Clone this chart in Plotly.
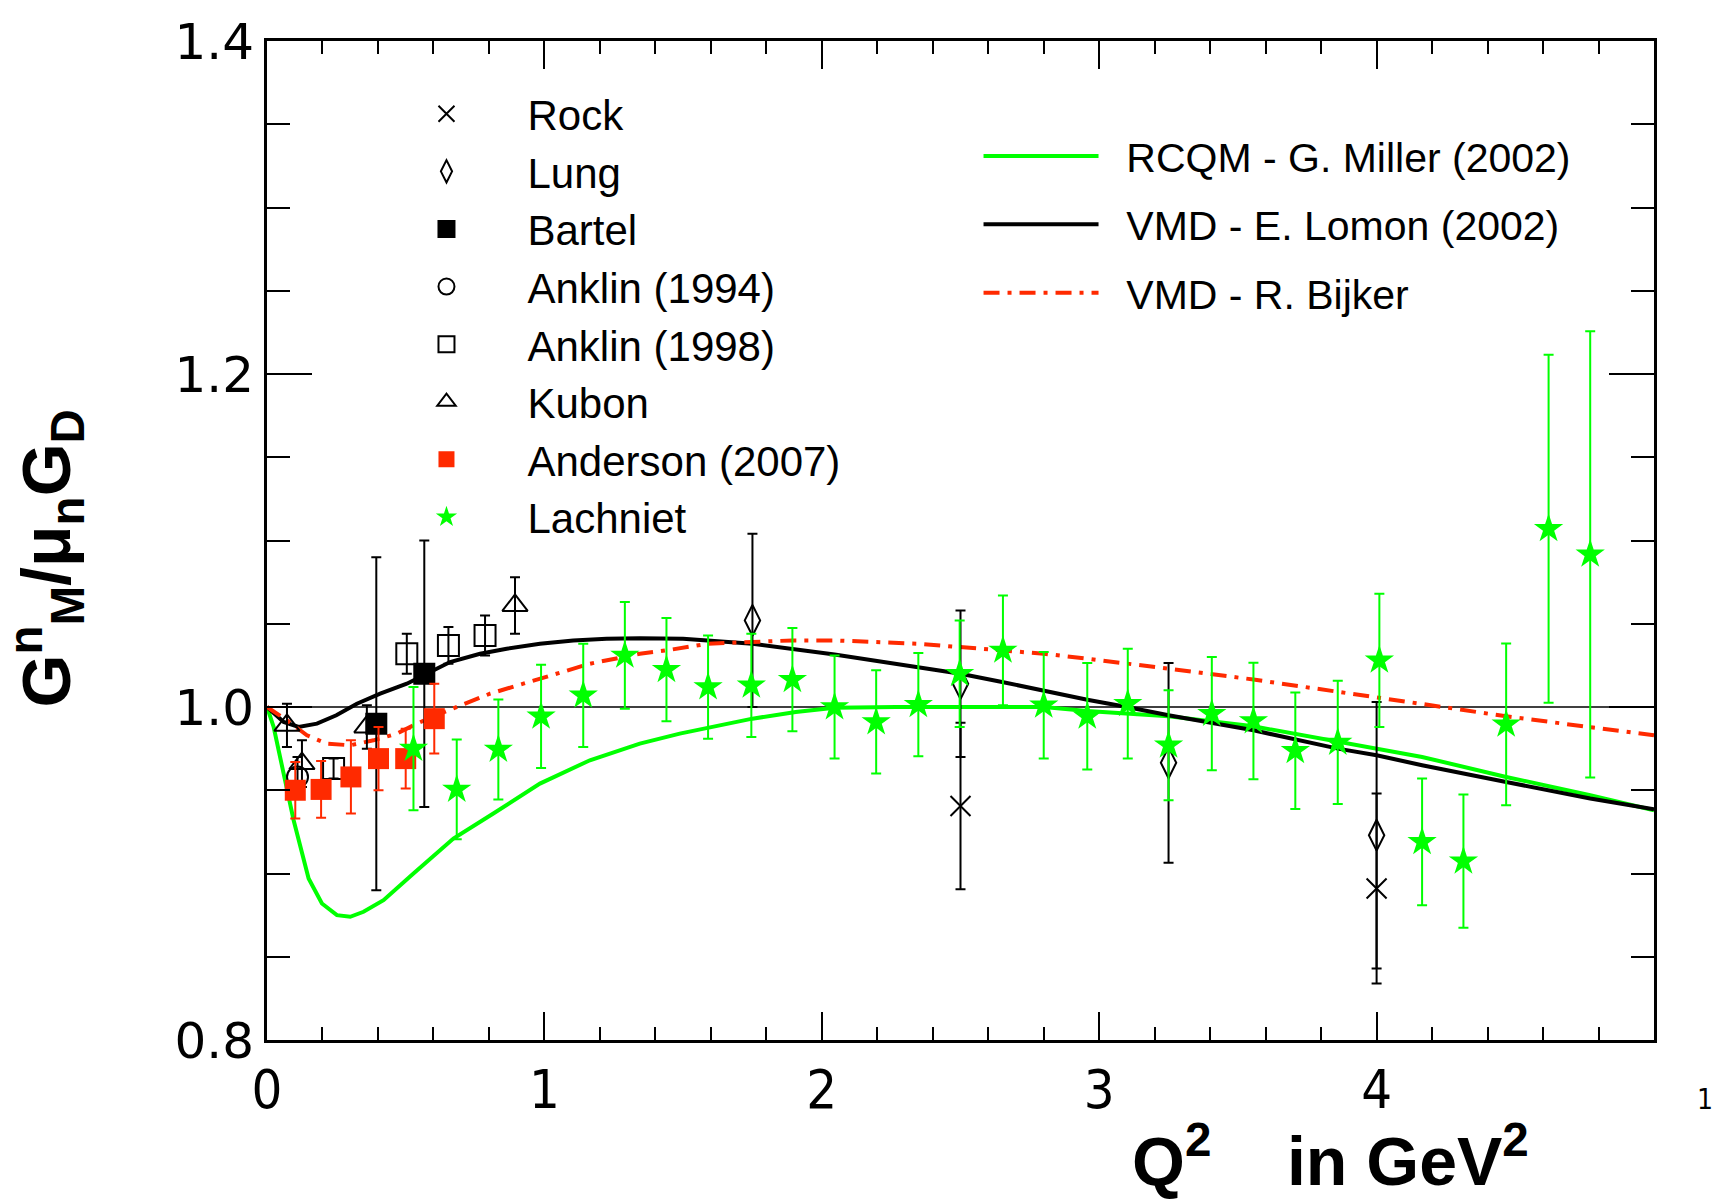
import plotly.graph_objects as go

# ---------------- data ----------------
rock_x = [2.5, 4.0]
rock_y = [0.9405, 0.891]
rock_e = [0.050, 0.057]

lung_x = [1.75, 2.5, 3.25, 4.0]
lung_y = [1.052, 1.014, 0.9665, 0.923]
lung_e = [0.052, 0.044, 0.060, 0.080]

bartel_x = [0.394, 0.567]
bartel_y = [0.990, 1.020]
bartel_e = [0.100, 0.080]

anklin94_x = [0.11]
anklin94_y = [0.958]
anklin94_e = [0.012]

anklin98_x = [0.24, 0.504, 0.654, 0.786]
anklin98_y = [0.963, 1.032, 1.037, 1.043]
anklin98_e = [0.006, 0.012, 0.011, 0.012]

kubon_x = [0.072, 0.126, 0.36, 0.894]
kubon_y = [0.989, 0.966, 0.988, 1.061]
kubon_e = [0.013, 0.014, 0.013, 0.017]

anderson_x = [0.102, 0.195, 0.3025, 0.402, 0.50, 0.603]
anderson_y = [0.950, 0.9505, 0.958, 0.969, 0.969, 0.993]
anderson_e = [0.017, 0.017, 0.022, 0.019, 0.018, 0.021]

lach_x = [0.528, 0.684, 0.834, 0.988, 1.140, 1.290, 1.440, 1.590, 1.746, 1.894,
          2.046, 2.196, 2.348, 2.497, 2.653, 2.800, 2.957, 3.103, 3.250, 3.406,
          3.556, 3.707, 3.860, 4.010, 4.164, 4.313, 4.467, 4.620, 4.770]
lach_y = [0.975, 0.9505, 0.9745, 0.9944, 1.007, 1.031, 1.0224, 1.012, 1.013, 1.0164,
          1.000, 0.991, 1.0014, 1.020, 1.034, 1.001, 0.9944, 1.002, 0.977, 0.996,
          0.9916, 0.9737, 0.9787, 1.028, 0.919, 0.9074, 0.9896, 1.107, 1.0917]
lach_e = [0.037, 0.030, 0.030, 0.031, 0.031, 0.032, 0.031, 0.031, 0.031, 0.031,
          0.031, 0.031, 0.031, 0.032, 0.033, 0.032, 0.032, 0.033, 0.033, 0.034,
          0.035, 0.035, 0.037, 0.040, 0.038, 0.040, 0.0486, 0.1045, 0.134]

miller_x = [0, 0.024, 0.06, 0.096, 0.15, 0.198, 0.252, 0.30, 0.348, 0.42, 0.528, 0.672,
            0.816, 0.984, 1.164, 1.344, 1.488, 1.75, 1.906, 2.046, 2.268, 2.508, 2.8,
            2.957, 3.11, 3.25, 3.556, 3.86, 4.0, 4.164, 4.467, 4.77, 5.0]
miller_y = [1.0, 0.988, 0.960, 0.932, 0.897, 0.882, 0.875, 0.874, 0.877, 0.884, 0.900, 0.921,
            0.936, 0.954, 0.968, 0.978, 0.984, 0.993, 0.997, 0.9996, 1.0, 1.0, 1.0,
            0.9976, 0.996, 0.9944, 0.9884, 0.979, 0.975, 0.970, 0.958, 0.947, 0.938]

lomon_x = [0, 0.06, 0.114, 0.18, 0.25, 0.324, 0.408, 0.504, 0.576, 0.66, 0.768, 0.864,
           0.984, 1.104, 1.224, 1.344, 1.5, 1.75, 2.046, 2.348, 2.5, 2.65, 2.8, 2.957,
           3.1, 3.25, 3.556, 3.86, 4.0, 4.164, 4.467, 4.77, 5.0]
lomon_y = [1.0, 0.991, 0.988, 0.990, 0.995, 1.002, 1.008, 1.014, 1.020, 1.027, 1.032, 1.035,
           1.038, 1.040, 1.041, 1.0413, 1.041, 1.038, 1.0315, 1.024, 1.020, 1.015, 1.0096, 1.0044,
           1.0, 0.995, 0.986, 0.975, 0.971, 0.965, 0.955, 0.945, 0.9386]

bijker_x = [0, 0.072, 0.144, 0.216, 0.30, 0.384, 0.468, 0.54, 0.624, 0.696, 0.804, 0.924,
            1.044, 1.164, 1.344, 1.44, 1.59, 1.746, 1.894, 2.046, 2.196, 2.348, 2.497,
            2.653, 2.80, 2.957, 3.11, 3.25, 3.556, 3.86, 4.0, 4.28, 4.467, 4.77, 5.0]
bijker_y = [1.0, 0.992, 0.983, 0.978, 0.977, 0.980, 0.984, 0.990, 0.996, 1.001, 1.008, 1.014,
            1.020, 1.026, 1.032, 1.034, 1.038, 1.039, 1.040, 1.040, 1.039, 1.038, 1.036,
            1.034, 1.032, 1.029, 1.026, 1.023, 1.0165, 1.0094, 1.006, 0.999, 0.9944, 0.988, 0.983]

GREEN = "#00ff00"
RED = "#ff2a00"
BLACK = "#000000"
FONT = "Liberation Sans, Arial, Helvetica, sans-serif"
NARROW = "Liberation Sans Narrow, DejaVu Sans Condensed, Liberation Sans, sans-serif"
WIDE = "DejaVu Sans, Liberation Sans, sans-serif"

fig = go.Figure()

# theory curves
fig.add_trace(go.Scatter(x=miller_x, y=miller_y, mode="lines", name="&nbsp;&nbsp;RCQM - G. Miller (2002)",
                         line=dict(color=GREEN, width=4), legend="legend2", legendgroup="l1"))
fig.add_trace(go.Scatter(x=lomon_x, y=lomon_y, mode="lines", name="&nbsp;&nbsp;VMD - E. Lomon (2002)",
                         line=dict(color=BLACK, width=4), legend="legend2", legendgroup="l2"))
fig.add_trace(go.Scatter(x=bijker_x, y=bijker_y, mode="lines", name="&nbsp;&nbsp;VMD - R. Bijker",
                         line=dict(color=RED, width=4, dash="16px,8px,4px,8px"),
                         legend="legend2", legendgroup="l3"))


def data_trace(x, y, e, name, symbol, color, size, lw=2, group=None):
    return go.Scatter(
        x=x, y=y, mode="markers", name=name, legendgroup=group,
        marker=dict(symbol=symbol, size=size, color=color,
                    line=dict(color=color, width=lw)),
        error_y=dict(type="data", array=e, visible=True, color=color,
                     thickness=2, width=5),
    )


fig.add_trace(data_trace(rock_x, rock_y, rock_e, "Rock", "x-thin-open", BLACK, 20, group="d1"))
fig.add_trace(data_trace(lung_x, lung_y, lung_e, "Lung", "diamond-tall-open", BLACK, 22, group="d2"))
fig.add_trace(data_trace(bartel_x, bartel_y, bartel_e, "Bartel", "square", BLACK, 20, group="d3"))
fig.add_trace(data_trace(anklin94_x, anklin94_y, anklin94_e, "Anklin (1994)", "circle-open", BLACK, 21, group="d4"))
fig.add_trace(data_trace(anklin98_x, anklin98_y, anklin98_e, "Anklin (1998)", "square-open", BLACK, 21, group="d5"))
fig.add_trace(data_trace(kubon_x, kubon_y, kubon_e, "Kubon", "triangle-up-open", BLACK, 22, group="d6"))
fig.add_trace(data_trace(anderson_x, anderson_y, anderson_e, "Anderson (2007)", "square", RED, 21, lw=0, group="d7"))
fig.add_trace(data_trace(lach_x, lach_y, lach_e, "Lachniet", "star", GREEN, 22, lw=0, group="d8"))

fig.add_hline(y=1.0, line=dict(color=BLACK, width=1.5), layer="below")

fig.update_layout(
    width=1721, height=1202,
    margin=dict(l=267, r=67, t=38, b=162),
    plot_bgcolor="white", paper_bgcolor="white",
    font=dict(family=FONT, color="black"),
    showlegend=True,
    legend=dict(x=0.071, y=0.961, xanchor="left", yanchor="top",
                font=dict(size=42, family=FONT), bgcolor="rgba(0,0,0,0)",
                itemwidth=152, tracegroupgap=0, traceorder="normal"),
    legend2=dict(x=0.513, y=0.918, xanchor="left", yanchor="top",
                 font=dict(size=41, family=FONT), bgcolor="rgba(0,0,0,0)",
                 itemwidth=115, tracegroupgap=12, traceorder="grouped"),
)

fig.update_xaxes(
    range=[0, 5.0], showgrid=False, zeroline=False,
    showline=True, linecolor="black", linewidth=3, mirror="ticks",
    ticks="inside", ticklen=28, tickwidth=2, tickcolor="black",
    tickmode="array", tickvals=[0, 1, 2, 3, 4], ticktext=["0", "1", "2", "3", "4"],
    tickfont=dict(size=54, family=NARROW), ticklabelstandoff=0,
    minor=dict(ticks="inside", ticklen=13, tickwidth=2, tickcolor="black", dtick=0.2, tick0=0, showgrid=False),
)
fig.update_yaxes(
    range=[0.8, 1.4], showgrid=False, zeroline=False,
    showline=True, linecolor="black", linewidth=3, mirror="ticks",
    ticks="inside", ticklen=45, tickwidth=2, tickcolor="black",
    tickmode="array", tickvals=[0.8, 1.0, 1.2, 1.4], ticktext=["0.8", "1.0", "1.2", "1.4"],
    tickfont=dict(size=50, family=WIDE), ticklabelstandoff=0,
    minor=dict(ticks="inside", ticklen=23, tickwidth=2, tickcolor="black", dtick=0.05, tick0=0.8, showgrid=False),
)

# y-axis title (rotated)
fig.add_annotation(
    text="<b>G<sup>n</sup><sub>M</sub>/μ<sub>n</sub>G<sub>D</sub></b>",
    xref="paper", yref="paper", x=-0.1229, y=0.4825, xanchor="right", yanchor="middle",
    textangle=-90, showarrow=False, font=dict(size=68, family=FONT),
)

fig.add_annotation(
    text="<b>Q<sup>2</sup>&nbsp;&nbsp;&nbsp;&nbsp;in GeV<sup>2</sup></b>",
    xref="paper", yref="paper", x=0.622, y=-0.116, xanchor="left", yanchor="middle",
    showarrow=False, font=dict(size=68, family=FONT),
)
fig.add_annotation(
    text="1", xref="paper", yref="paper", x=1.0, y=-0.06, xshift=51,
    xanchor="center", yanchor="middle", showarrow=False, font=dict(size=28, family=NARROW),
)

fig.write_html("out.html")
